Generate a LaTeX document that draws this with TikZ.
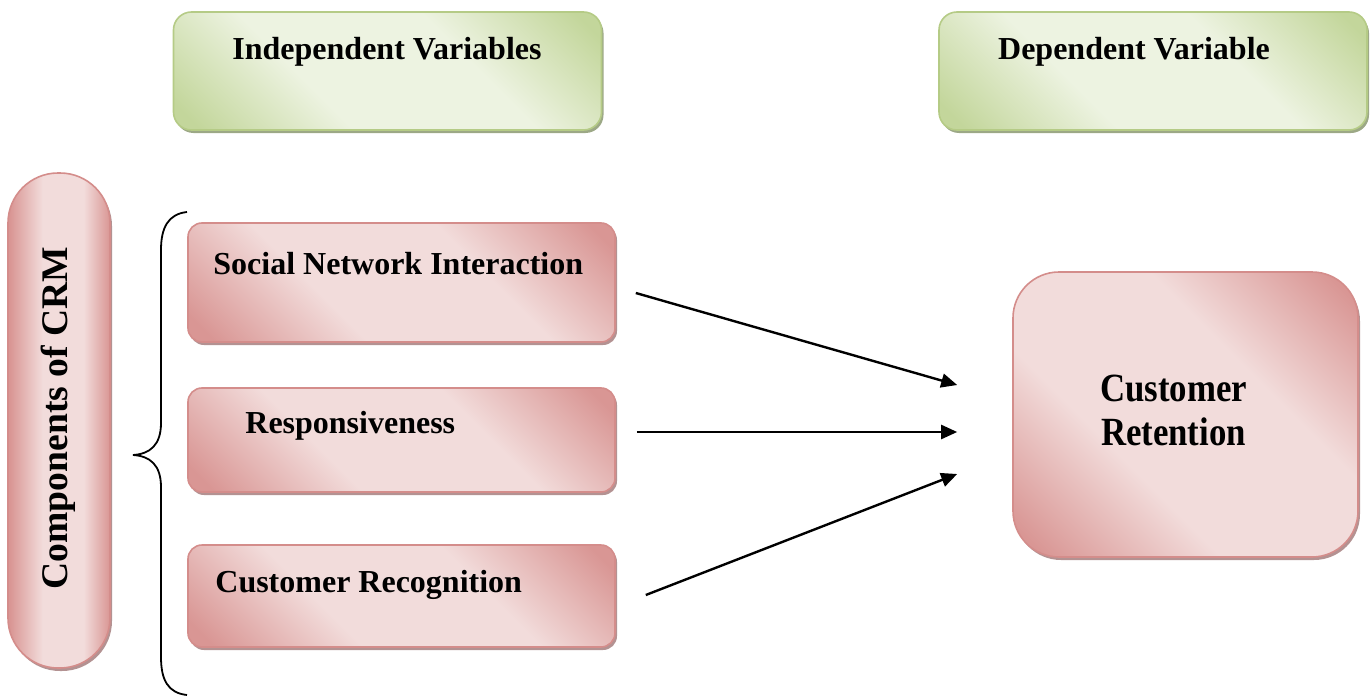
\documentclass[tikz,border=0pt]{standalone}
\usepackage{fontspec}
\setmainfont{Liberation Serif}
\newfontfamily\narrowserif[FakeStretch=0.87]{Liberation Serif}
\usepackage{tikz}
\usetikzlibrary{arrows.meta,calc,shadows}
\definecolor{leafgreen}{HTML}{C3D69B}
\definecolor{palegreen}{HTML}{EDF3E1}
\definecolor{greenrim}{HTML}{B5CB86}
\definecolor{greenshade}{HTML}{9CA886}
\definecolor{rosedark}{HTML}{D99694}
\definecolor{roselight}{HTML}{F2DCDB}
\definecolor{roserim}{HTML}{D48D8B}
\definecolor{roseshade}{HTML}{B39292}
\pgfdeclarehorizontalshading{greensheen}{100bp}{color(0bp)=(leafgreen); color(18bp)=(leafgreen);
  color(38bp)=(palegreen); color(62bp)=(palegreen); color(82bp)=(leafgreen); color(100bp)=(leafgreen)}
\pgfdeclarehorizontalshading{rosesheen}{100bp}{color(0bp)=(rosedark); color(18bp)=(rosedark);
  color(38bp)=(roselight); color(62bp)=(roselight); color(82bp)=(rosedark); color(100bp)=(rosedark)}
\pgfdeclarehorizontalshading{pillsheen}{100bp}{color(0bp)=(rosedark); color(26bp)=(rosedark);
  color(42bp)=(roselight); color(62bp)=(roselight); color(75bp)=(rosedark); color(100bp)=(rosedark)}
\tikzset{
  heading box/.style = {draw=greenrim, line width=0.8pt, rounded corners=9pt,
                        shade, shading=greensheen, shading angle=45,
                        minimum width=214pt, minimum height=59pt,
                        drop shadow={shadow xshift=1pt, shadow yshift=-1.5pt,
                                     fill=greenshade, opacity=1}},
  factor box/.style  = {draw=roserim, line width=0.8pt, rounded corners=7pt,
                        shade, shading=rosesheen, shading angle=45, minimum width=213.5pt,
                        drop shadow={shadow xshift=1pt, shadow yshift=-1.5pt,
                                     fill=roseshade, opacity=1}},
  crm pill/.style    = {factor box, rounded corners=25pt, shading=pillsheen, shading angle=0,
                        minimum width=51pt, minimum height=247.5pt},
  outcome box/.style = {factor box, rounded corners=23pt,
                        minimum width=172.5pt, minimum height=142.5pt},
  box text/.style    = {font=\fontsize{16}{19}\selectfont\bfseries, inner sep=0pt},
  big text/.style    = {font=\narrowserif\fontsize{20}{22}\selectfont\bfseries, inner sep=0pt},
  link/.style        = {-{Triangle[length=8pt,width=7pt]}, line width=1.2pt},
  brace line/.style  = {line width=0.9pt},
}
\begin{document}
\begin{tikzpicture}[x=0.5pt, y=0.5pt]
  \useasboundingbox (0,0) rectangle (1372,-696);
  \node[heading box] (ivbox) at (387.5,-71) {};
  \node[heading box] (dvbox) at (1153,-71) {};
  \node[box text, anchor=base] (ivtext) at (387,-60) {Independent Variables};
  \node[box text, anchor=base] (dvtext) at (1134,-59) {Dependent Variable};

  \node[crm pill] (crmpill) at (59,-420.5) {};
  \node[box text, font=\fontsize{18.8}{22}\selectfont\bfseries, rotate=90] (crmtext)
    at (58,-418) {Components of CRM};

  \draw[brace line] (187,-212) .. controls (168,-214) and (161,-228) .. (161,-250)
    -- (161,-423) .. controls (161,-445) and (150,-454) .. (133,-455)
    .. controls (150,-456) and (161,-465) .. (161,-487)
    -- (161,-657) .. controls (161,-680) and (168,-693) .. (187,-695);

  \node[factor box, minimum height=59.5pt] (snibox) at (401.5,-282.5) {};
  \node[factor box, minimum height=52pt] (resbox) at (401.5,-440) {};
  \node[factor box, minimum height=51pt] (recbox) at (401.5,-596) {};
  \node[box text, anchor=base west] (snitext) at (213,-274) {Social Network Interaction};
  \node[box text, anchor=base west] (restext) at (245,-433) {Responsiveness};
  \node[box text, anchor=base west] (rectext) at (215,-592) {Customer Recognition};

  \node[outcome box] (crbox) at (1185.5,-414.5) {};
  \node[big text, align=center] (crtext) at (1173.5,-410) {Customer\\Retention};

  \draw[link] ($(snibox.east)+(20,-10.5)$) -- ($(crbox.west)+(-55,29.5)$);
  \draw[link] ($(resbox.east)+(21,8)$) -- ($(crbox.west)+(-55,-17.5)$);
  \draw[link] ($(recbox.east)+(30,1)$) -- ($(crbox.west)+(-55,-59.5)$);
\end{tikzpicture}
\end{document}
